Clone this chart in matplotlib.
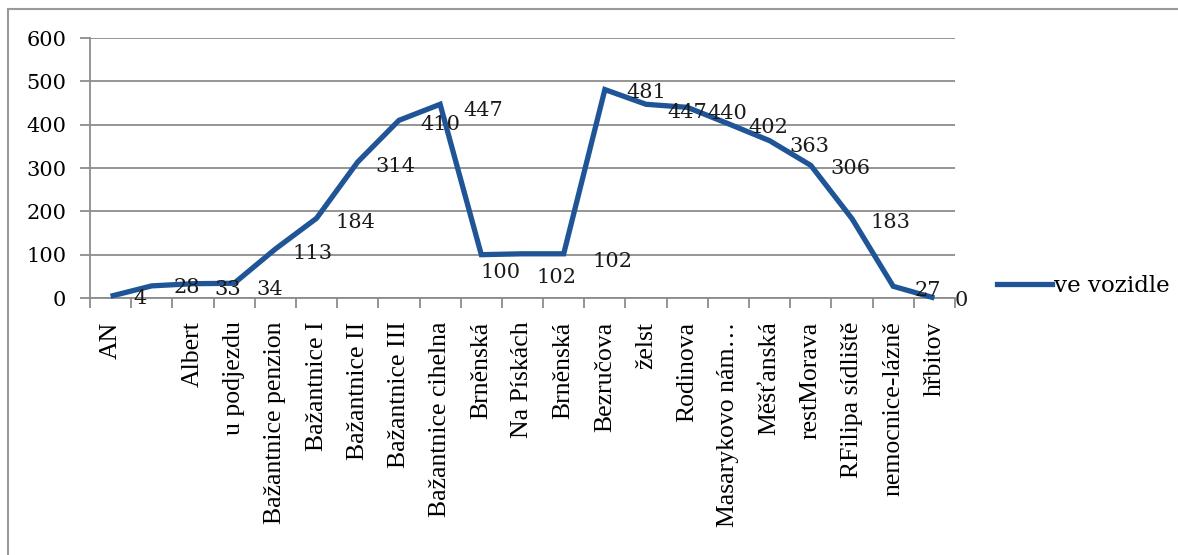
import matplotlib.pyplot as plt
from matplotlib.lines import Line2D
from matplotlib.transforms import offset_copy

stops = [
    "AN", "", "Albert", "u podjezdu", "Bažantnice penzion", "Bažantnice I",
    "Bažantnice II", "Bažantnice III", "Bažantnice cihelna", "Brněnská",
    "Na Pískách", "Brněnská", "Bezručova", "želst", "Rodinova",
    "Masarykovo nám…", "Měšťanská", "restMorava", "RFilipa sídliště",
    "nemocnice-lázně", "hřbitov",
]
ve_vozidle = [4, 28, 33, 34, 113, 184, 314, 410, 447, 100, 102, 102,
              481, 447, 440, 402, 363, 306, 183, 27, 0]

# label offsets in pixels (right, down) as placed in the source chart
label_dx = [29, 35, 35, 36, 37, 39, 38, 41, 43, 19, 34, 49,
            41, 41, 40, 40, 40, 40, 38, 35, 27]
label_dy = [2, 2, 6, 6, 4, 4, 5, 4, 6, 18, 24, 8,
            3, 8, 6, 4, 6, 3, 4, 4, 3]

W, H = 1178, 555
fig = plt.figure(figsize=(W / 100, H / 100), dpi=100)
ax = fig.add_axes([90 / W, 1 - 298 / H, 865 / W, 260 / H])

blue = "#1f5596"
grey = "#8c8c8c"
num_font = "DejaVu Serif"
lab_font = "Liberation Serif"

x = list(range(len(ve_vozidle)))
ax.plot(x, ve_vozidle, color=blue, lw=3.8, solid_joinstyle="miter",
        solid_capstyle="butt", zorder=3, clip_on=False)

for i, v in enumerate(ve_vozidle):
    tr = offset_copy(ax.transData, fig=fig, x=label_dx[i] * 0.72,
                     y=-label_dy[i] * 0.72, units="points")
    ax.text(i, v, str(v), transform=tr, ha="center", va="center",
            fontsize=15, family=num_font, color="#1a1a1a", zorder=4)

ax.set_xlim(-0.5, len(ve_vozidle) - 0.5)
ax.set_ylim(0, 600)
ax.set_yticks(range(0, 601, 100))
ax.yaxis.grid(True, color=grey, lw=1.3)
ax.set_axisbelow(True)

ax.set_xticks(x)
ax.set_xticklabels(stops, rotation=90, ha="center", va="top",
                   family=lab_font, fontsize=18.5)
ax.set_xticks([i - 0.5 for i in range(len(ve_vozidle) + 1)], minor=True)
ax.tick_params(axis="x", which="major", length=0, pad=17)
ax.tick_params(axis="x", which="minor", length=7, width=1.3, color=grey,
               direction="out")
ax.tick_params(axis="y", length=7, width=1.3, color=grey, pad=10)
for t in ax.get_yticklabels():
    t.set_family(num_font)
    t.set_fontsize(15)

for s in ["top", "right"]:
    ax.spines[s].set_visible(False)
for s in ["left", "bottom"]:
    ax.spines[s].set_color(grey)
    ax.spines[s].set_linewidth(1.3)

fig.legend(handles=[Line2D([], [], color=blue, lw=3.8)], labels=["ve vozidle"],
           loc="center left", bbox_to_anchor=(988 / W, 1 - 286 / H),
           frameon=False, prop={"family": num_font, "size": 16.5},
           handlelength=2.4, handletextpad=0.1, borderaxespad=0)

# outer chart frame (cropped at right and bottom)
fig.add_artist(Line2D([8 / W, 8 / W], [0, 1 - 9 / H], color="#9a9a9a", lw=1.5))
fig.add_artist(Line2D([8 / W, 1], [1 - 9 / H, 1 - 9 / H], color="#9a9a9a", lw=1.5))

fig.savefig("out.png", dpi=100)
